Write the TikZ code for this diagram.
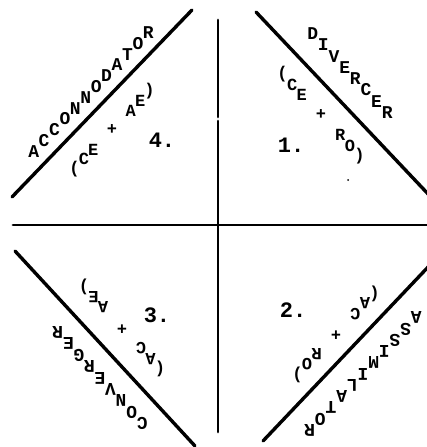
\documentclass[tikz,border=0pt]{standalone}
\usepackage{fontspec}
\setmonofont{Liberation Mono}
% #1 name, #2 cx, #3 cy, #4 ux, #5 uy, #6 pitch, #7 style, #8 count, #9 letters
\newcommand\diagword[9]{%
  \foreach \ch [count=\i] in {#9} {%
    \node[#7] (#1\i) at ({#2+(\i-(#8+1)/2)*#6*#4},{#3+(\i-(#8+1)/2)*#6*#5}) {\ch};
  }%
}
\begin{document}
\begin{tikzpicture}[x=1pt,y=1pt,
  axis/.style={line width=2.8pt, line cap=round},
  diag/.style={line width=3.4pt, line cap=round},
  lab/.style={font=\ttfamily\bfseries\fontsize{18}{18}\selectfont, inner sep=0pt},
  form/.style={font=\ttfamily\bfseries\fontsize{17}{17}\selectfont, inner sep=0pt},
  labr/.style={lab, rotate=180},
  formr/.style={form, rotate=180},
  num/.style={font=\ttfamily\bfseries\fontsize{22}{22}\selectfont, inner sep=0pt}]
\useasboundingbox (0,0) rectangle (427,-447);
\fill[white] (0,0) rectangle (427,-447);
% axes
\coordinate (vt) at (218,-20);
\coordinate (vg1) at (218,-117);
\coordinate (vg2) at (218,-121);
\coordinate (vb) at (218,-432);
\coordinate (hl) at (13,-225);
\coordinate (hr) at (430,-225);
\draw[axis] (vt) -- (vg1);
\draw[axis] (vg2) -- (vb);
\draw[axis] (hl) -- (hr);
% diagonals
\coordinate (tla) at (12,-197);
\coordinate (tlb) at (192,-10);
\coordinate (tra) at (256,-12);
\coordinate (trb) at (430,-196);
\coordinate (bla) at (15,-251);
\coordinate (blb) at (195,-446);
\coordinate (bra) at (263,-441);
\coordinate (brb) at (430,-265);
\draw[diag] (tla) -- (tlb);
\draw[diag] (tra) -- (trb);
\draw[diag] (bla) -- (blb);
\draw[diag] (bra) -- (brb);
% quadrant 4 (top left)
\diagword{acc}{91}{-92}{0.695}{0.719}{15}{lab}{12}{A,C,C,O,N,N,O,D,A,T,O,R}
\diagword{tlf}{112}{-130}{0.695}{0.719}{13.5}{form}{9}{{(},C,E,{},+,{},A,E,{)}}
\node[num] (n4) at (162,-140) {4.};
% quadrant 1 (top right)
\diagword{div}{350}{-73}{0.687}{-0.727}{15.5}{lab}{8}{D,I,V,E,R,C,E,R}
\diagword{trf}{321}{-115}{0.687}{-0.727}{14}{form}{9}{{(},C,E,{},+,{},R,O,{)}}
\node[num] (n1) at (291,-145) {1.};
\fill (348,-180) circle (1pt);
% quadrant 3 (bottom left)
\diagword{con}{100}{-378}{-0.68}{0.735}{15.5}{labr}{9}{C,O,N,V,E,R,G,E,R}
\diagword{blf}{122}{-328}{-0.68}{0.735}{14}{formr}{9}{{(},A,C,{},+,{},A,E,{)}}
\node[num] (n3) at (157,-315) {3.};
% quadrant 2 (bottom right)
\diagword{ass}{363}{-374}{-0.688}{-0.725}{15.5}{labr}{11}{A,S,S,I,M,I,L,A,T,O,R}
\diagword{brf}{336}{-334}{-0.688}{-0.725}{14}{formr}{9}{{(},A,C,{},+,{},R,O,{)}}
\node[num] (n2) at (293,-310) {2.};
\end{tikzpicture}
\end{document}
